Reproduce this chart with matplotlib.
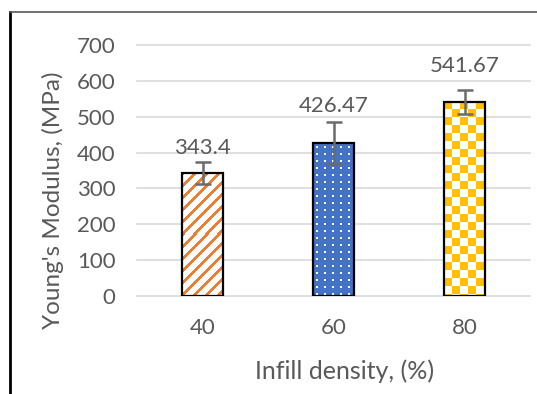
import numpy as np
import matplotlib
matplotlib.use('Agg')
import matplotlib.pyplot as plt
from matplotlib.lines import Line2D

# ---- data ----
categories = ['40', '60', '80']
values = [343.4, 426.47, 541.67]
errors = [31, 58, 34]
value_labels = ['343.4', '426.47', '541.67']
y_ticks = [0, 100, 200, 300, 400, 500, 600, 700]
x_label = 'Infill density, (%)'
y_label = "Young's Modulus, (MPa)"

# ---- style ----
label_offsets_pt = [10, 12, 17]
plt.rcParams['font.family'] = ['Lato', 'DejaVu Sans']
TXT = '#595959'
GRID = '#D9D9D9'
ORANGE = np.array([0xED, 0x7D, 0x31]) / 255
BLUE = np.array([0x44, 0x72, 0xC4]) / 255
YELLOW = np.array([0xFF, 0xC0, 0x00]) / 255
WHITE = np.array([1.0, 1.0, 1.0])

W, H = 537, 394
fig = plt.figure(figsize=(W / 100, H / 100), dpi=100)
ax = fig.add_axes([137 / W, 98 / H, 393 / W, 251 / H])

x = np.arange(len(categories))
bw = 0.32
bars = ax.bar(x, values, width=bw, color='white', edgecolor='none', zorder=2)
ax.set_xlim(-0.5, len(categories) - 0.5)
ax.set_ylim(0, 700)

fig.canvas.draw()


def pattern(kind, h, w):
    r, c = np.mgrid[0:h, 0:w]
    img = np.ones((h, w, 3))
    if kind == 'stripes':
        m = ((r + c) % 12) < 4
        img[:] = WHITE
        img[m] = ORANGE
    elif kind == 'dots':
        img[:] = BLUE
        m = ((r % 7) >= 3) & ((r % 7) < 5) & ((c % 8) >= 3) & ((c % 8) < 5)
        img[m] = WHITE
    else:
        m = ((r // 8 + c // 8) % 2) == 0
        img[:] = WHITE
        img[m] = YELLOW
    return img


kinds = ['stripes', 'dots', 'checker']
for bar, kind in zip(bars, kinds):
    bb = bar.get_window_extent()
    w = max(1, int(round(bb.width)))
    h = max(1, int(round(bb.height)))
    img = pattern(kind, h, w)
    im = ax.imshow(img, extent=(bar.get_x(), bar.get_x() + bar.get_width(), 0, bar.get_height()),
                   interpolation='nearest', aspect='auto', zorder=2.5)
    im.set_clip_path(bar)

ax.set_xlim(-0.5, len(categories) - 0.5)
ax.set_ylim(0, 700)

ax.bar(x, values, width=bw, fill=False, edgecolor='black', linewidth=1.6, zorder=3)
ax.errorbar(x, values, yerr=errors, fmt='none', ecolor='#6B6B6B', elinewidth=1.8,
            capsize=6, capthick=1.8, zorder=4)

for xi, v, e, lab, off in zip(x, values, errors, value_labels, label_offsets_pt):
    ax.annotate(lab, (xi, v + e), xytext=(0, off), textcoords='offset points',
                ha='center', va='center', fontsize=16, color=TXT)

ax.set_xticks(x)
ax.set_xticklabels(categories)
ax.set_yticks(y_ticks)
ax.tick_params(axis='both', length=0, labelsize=16, labelcolor=TXT)
ax.tick_params(axis='y', pad=15.5)
ax.tick_params(axis='x', pad=16)

ax.grid(axis='y', color=GRID, linewidth=1.2, zorder=0)
ax.set_axisbelow(True)
for gl in ax.get_ygridlines():
    gl.set_clip_on(False)
for s in ax.spines.values():
    s.set_visible(False)

ax.set_xlabel(x_label, fontsize=18, color=TXT)
ax.xaxis.set_label_coords(0.529, -0.299)
ax.xaxis.label.set_va('center')
ax.set_ylabel(y_label, fontsize=17.5, color=TXT)
ax.yaxis.set_label_coords(-0.214, 0.382)
ax.yaxis.label.set_va('center')

# chart border (partial frame as in the reference)
fig.add_artist(Line2D([10 / W, 10 / W], [0, 1 - 12 / H], transform=fig.transFigure,
                      color='black', linewidth=2))
fig.add_artist(Line2D([10 / W, 1], [1 - 12 / H, 1 - 12 / H], transform=fig.transFigure,
                      color='#595959', linewidth=1.2))

fig.savefig('out.png', dpi=100)
